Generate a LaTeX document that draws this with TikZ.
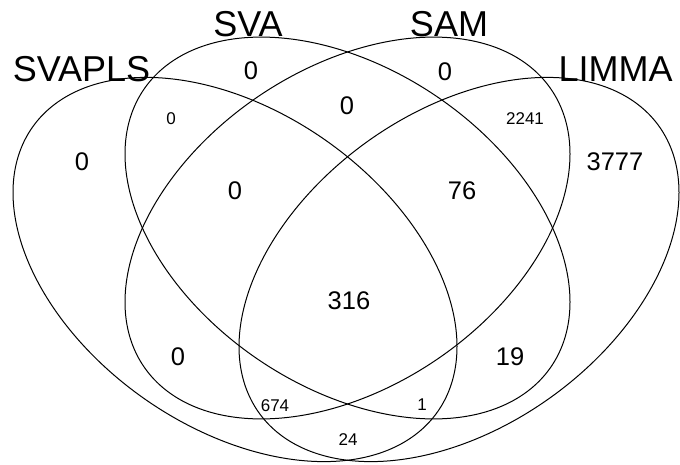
\documentclass[tikz,border=0pt]{standalone}
\usepackage{fontspec}
\setmainfont{Liberation Sans}
\begin{document}
\begin{tikzpicture}[x=1pt,y=-1pt,
  venn/.style={draw=black,line width=1pt},
  catlab/.style={inner sep=0pt,font=\fontsize{36}{36}\selectfont},
  bignum/.style={inner sep=0pt,font=\fontsize{25.5}{26}\selectfont},
  smallnum/.style={inner sep=0pt,font=\fontsize{17}{17}\selectfont}]
\useasboundingbox (0,0) rectangle (680,464);
% SVAPLS (outer left)
\draw[venn] plot[variable=\t,domain=0:358,samples=180,smooth cycle]
  ({235+222*cos(\t)},{269.5+77*cos(\t)+176*sin(\t)});
% LIMMA (outer right)
\draw[venn] plot[variable=\t,domain=0:358,samples=180,smooth cycle]
  ({459+220*cos(\t)},{269.5-77*cos(\t)+176*sin(\t)});
% SVA (inner)
\draw[venn] plot[variable=\t,domain=0:358,samples=180,smooth cycle]
  ({347.5+222.5*cos(\t)},{228+74*cos(\t)+176*sin(\t)});
% SAM (inner)
\draw[venn] plot[variable=\t,domain=0:358,samples=180,smooth cycle]
  ({347.5+222.5*cos(\t)},{228-74*cos(\t)+176*sin(\t)});
% category labels
\node[catlab] (lsvapls) at (81.5,69.5) {SVAPLS};
\node[catlab] (lsva) at (248,24.5) {SVA};
\node[catlab] (lsam) at (449,24.5) {SAM};
\node[catlab] (llimma) at (615.5,69.5) {LIMMA};
% counts
\node[bignum] (n1) at (251,71) {0};
\node[bignum] (n2) at (445,72) {0};
\node[bignum] (n3) at (347,106) {0};
\node[smallnum] (n4) at (171,119) {0};
\node[smallnum] (n5) at (525,119) {2241};
\node[bignum] (n6) at (82,162) {0};
\node[bignum] (n7) at (615,162) {3777};
\node[bignum] (n8) at (235,191) {0};
\node[bignum] (n9) at (462,191) {76};
\node[bignum] (n10) at (349,301) {316};
\node[bignum] (n11) at (178,357) {0};
\node[bignum] (n12) at (510,357) {19};
\node[smallnum] (n13) at (275,406) {674};
\node[smallnum] (n14) at (422,405) {1};
\node[smallnum] (n15) at (348,440) {24};
\end{tikzpicture}
\end{document}
